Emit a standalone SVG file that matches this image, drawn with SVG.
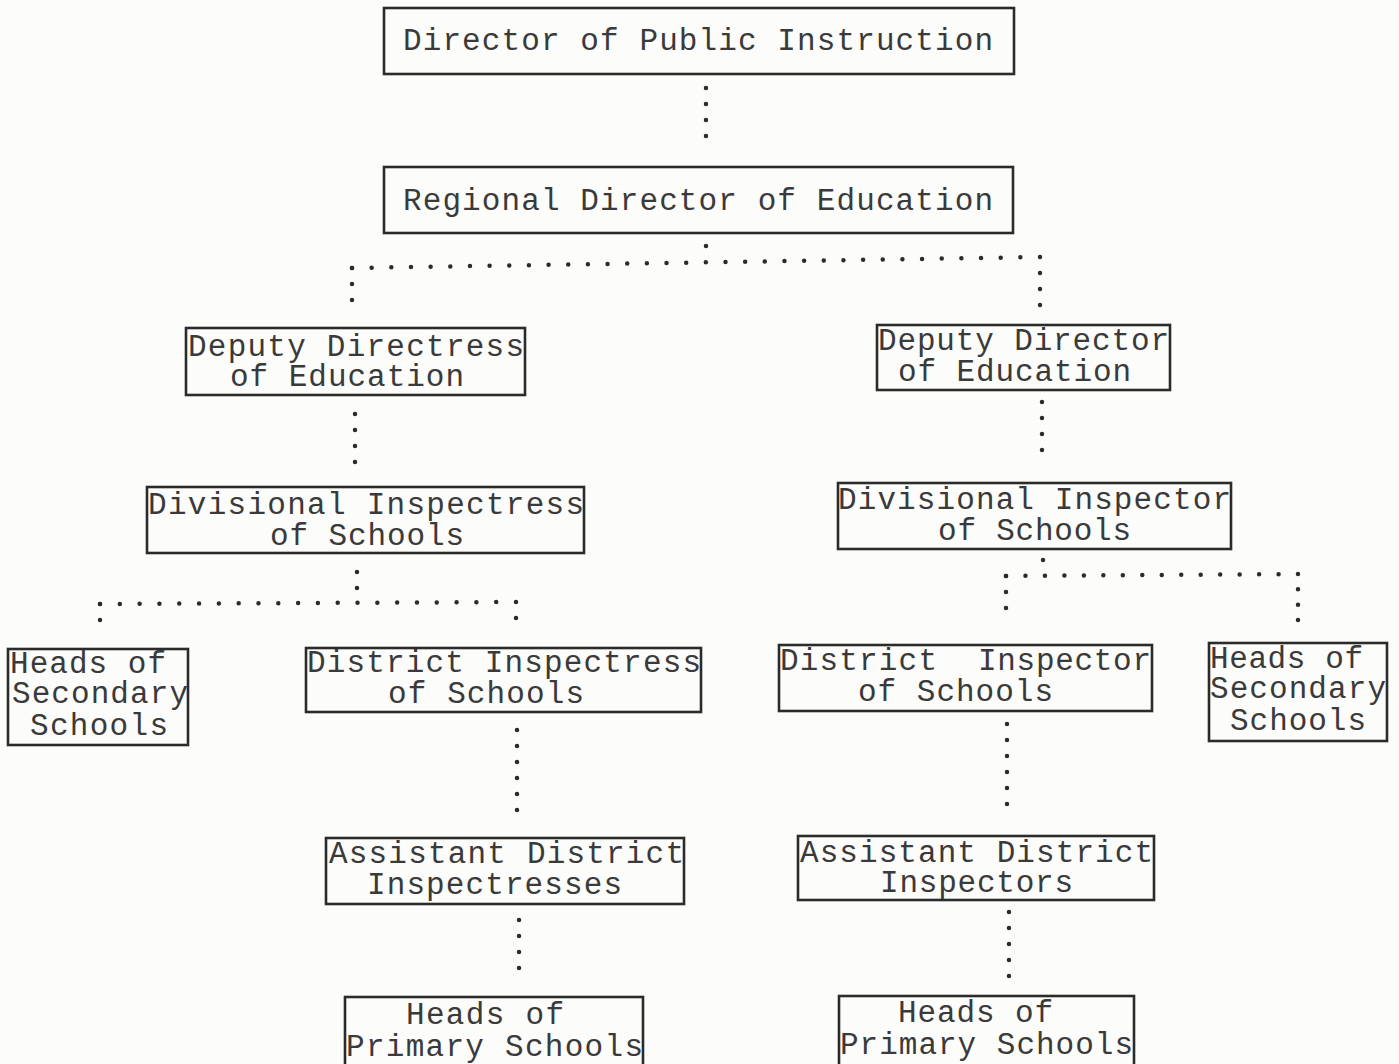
<svg xmlns="http://www.w3.org/2000/svg" width="1399" height="1064" viewBox="0 0 1399 1064">
<style>
.bg{fill:#fcfcfa}
.box{fill:none;stroke:#2b2b2b;stroke-width:2.6}
.t{font-family:"Liberation Mono","DejaVu Sans Mono",monospace;font-size:31px;fill:#3a3a3a}
.dot{stroke:#2b2b2b;stroke-width:4.5;stroke-linecap:round;fill:none}
</style>
<rect class="bg" x="0" y="0" width="1399" height="1064"/>
<g id="connectors">
<line class="dot" x1="706" y1="88" x2="706" y2="152" stroke-dasharray="0 16"/>
<line class="dot" x1="706" y1="246" x2="706" y2="262" stroke-dasharray="0 16"/>
<line class="dot" x1="352" y1="268" x2="1040" y2="257" stroke-dasharray="0 19.66"/>
<line class="dot" x1="352" y1="268" x2="352" y2="316" stroke-dasharray="0 16"/>
<line class="dot" x1="1040" y1="257" x2="1040" y2="321" stroke-dasharray="0 16"/>
<line class="dot" x1="355" y1="414" x2="355" y2="478" stroke-dasharray="0 16"/>
<line class="dot" x1="357" y1="572" x2="357" y2="604" stroke-dasharray="0 16"/>
<line class="dot" x1="100" y1="604" x2="516" y2="602" stroke-dasharray="0 19.81"/>
<line class="dot" x1="100" y1="604" x2="100" y2="636" stroke-dasharray="0 16"/>
<line class="dot" x1="516" y1="602" x2="516" y2="634" stroke-dasharray="0 16"/>
<line class="dot" x1="517" y1="730" x2="517" y2="826" stroke-dasharray="0 16"/>
<line class="dot" x1="519" y1="920" x2="519" y2="984" stroke-dasharray="0 16"/>
<line class="dot" x1="1042" y1="402" x2="1042" y2="466" stroke-dasharray="0 16"/>
<line class="dot" x1="1043" y1="560" x2="1043" y2="575" stroke-dasharray="0 15"/>
<line class="dot" x1="1006" y1="576" x2="1298" y2="574" stroke-dasharray="0 19.47"/>
<line class="dot" x1="1006" y1="576" x2="1006" y2="624" stroke-dasharray="0 16"/>
<line class="dot" x1="1298" y1="574" x2="1298" y2="620" stroke-dasharray="0 15.33"/>
<line class="dot" x1="1007" y1="724" x2="1007" y2="820" stroke-dasharray="0 16"/>
<line class="dot" x1="1009" y1="912" x2="1009" y2="992" stroke-dasharray="0 16"/>
</g>
<g id="n-dpi">
<rect class="box" x="384" y="8" width="630" height="66"/>
<text class="t" x="403" y="50" textLength="590" lengthAdjust="spacing">Director of Public Instruction</text>
</g>
<g id="n-rde">
<rect class="box" x="384" y="167" width="629" height="66"/>
<text class="t" x="403" y="210" textLength="590" lengthAdjust="spacing">Regional Director of Education</text>
</g>
<g id="n-deputy-directress">
<rect class="box" x="186" y="328" width="339" height="67"/>
<text class="t" x="188" y="356" textLength="336" lengthAdjust="spacing">Deputy Directress</text>
<text class="t" x="230" y="386" textLength="234" lengthAdjust="spacing">of Education</text>
</g>
<g id="n-div-inspectress">
<rect class="box" x="147" y="487" width="437" height="66"/>
<text class="t" x="148" y="514" textLength="436" lengthAdjust="spacing">Divisional Inspectress</text>
<text class="t" x="270" y="545" textLength="194" lengthAdjust="spacing">of Schools</text>
</g>
<g id="n-heads-sec-left">
<rect class="box" x="8" y="649" width="180" height="96"/>
<text class="t" x="10" y="673" textLength="156" lengthAdjust="spacing">Heads of</text>
<text class="t" x="12" y="703" textLength="176" lengthAdjust="spacing">Secondary</text>
<text class="t" x="30" y="735" textLength="138" lengthAdjust="spacing">Schools</text>
</g>
<g id="n-dist-inspectress">
<rect class="box" x="306" y="648" width="395" height="64"/>
<text class="t" x="307" y="672" textLength="394" lengthAdjust="spacing">District Inspectress</text>
<text class="t" x="388" y="703" textLength="196" lengthAdjust="spacing">of Schools</text>
</g>
<g id="n-asst-inspectresses">
<rect class="box" x="326" y="838" width="358" height="66"/>
<text class="t" x="329" y="863" textLength="355" lengthAdjust="spacing">Assistant District</text>
<text class="t" x="367" y="894" textLength="255" lengthAdjust="spacing">Inspectresses</text>
</g>
<g id="n-heads-prim-left">
<rect class="box" x="345" y="997" width="298" height="80"/>
<text class="t" x="406" y="1024" textLength="158" lengthAdjust="spacing">Heads of</text>
<text class="t" x="346" y="1056" textLength="297" lengthAdjust="spacing">Primary Schools</text>
</g>
<g id="n-deputy-director">
<rect class="box" x="877" y="325" width="293" height="65"/>
<text class="t" x="878" y="350" textLength="291" lengthAdjust="spacing">Deputy Director</text>
<text class="t" x="898" y="381" textLength="233" lengthAdjust="spacing">of Education</text>
</g>
<g id="n-div-inspector">
<rect class="box" x="838" y="483" width="393" height="66"/>
<text class="t" x="838" y="509" textLength="393" lengthAdjust="spacing">Divisional Inspector</text>
<text class="t" x="938" y="540" textLength="193" lengthAdjust="spacing">of Schools</text>
</g>
<g id="n-dist-inspector">
<rect class="box" x="779" y="645" width="373" height="66"/>
<text class="t" y="670"><tspan x="780" textLength="157" lengthAdjust="spacing">District</tspan> <tspan x="978" textLength="173" lengthAdjust="spacing">Inspector</tspan></text>
<text class="t" x="858" y="701" textLength="195" lengthAdjust="spacing">of Schools</text>
</g>
<g id="n-heads-sec-right">
<rect class="box" x="1209" y="643" width="178" height="98"/>
<text class="t" x="1210" y="668" textLength="153" lengthAdjust="spacing">Heads of</text>
<text class="t" x="1210" y="698" textLength="176" lengthAdjust="spacing">Secondary</text>
<text class="t" x="1230" y="730" textLength="136" lengthAdjust="spacing">Schools</text>
</g>
<g id="n-asst-inspectors">
<rect class="box" x="798" y="836" width="356" height="64"/>
<text class="t" x="800" y="862" textLength="353" lengthAdjust="spacing">Assistant District</text>
<text class="t" x="880" y="892" textLength="193" lengthAdjust="spacing">Inspectors</text>
</g>
<g id="n-heads-prim-right">
<rect class="box" x="839" y="996" width="295" height="80"/>
<text class="t" x="898" y="1022" textLength="155" lengthAdjust="spacing">Heads of</text>
<text class="t" x="840" y="1054" textLength="293" lengthAdjust="spacing">Primary Schools</text>
</g>
</svg>
